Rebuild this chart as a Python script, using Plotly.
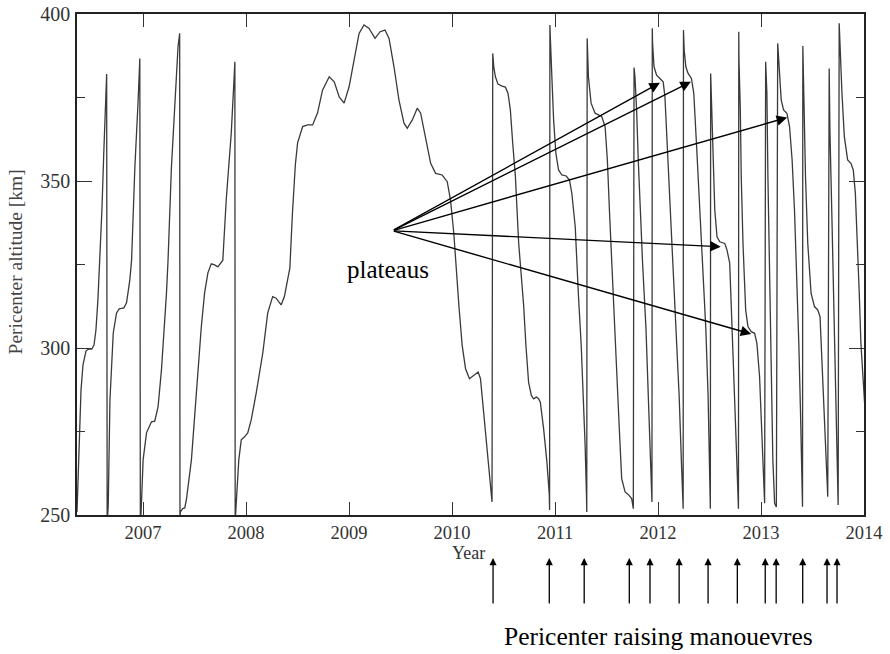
import plotly.graph_objects as go

# ---- Data (decimal year, pericenter altitude in km) ----
year = [
    # 2006 arcs (natural rise, then lowering)
    2006.358, 2006.378, 2006.397, 2006.416, 2006.445, 2006.465, 2006.503, 2006.523, 2006.542,
    2006.561, 2006.581, 2006.600, 2006.619, 2006.634, 2006.646, 2006.651,
    2006.654, 2006.661, 2006.678, 2006.710, 2006.742, 2006.768, 2006.813, 2006.839, 2006.871,
    2006.888, 2006.920, 2006.952, 2006.968, 2006.973,
    2006.978, 2007.000, 2007.033, 2007.081, 2007.113, 2007.145, 2007.178, 2007.227, 2007.242,
    2007.275, 2007.307, 2007.339, 2007.355, 2007.358,
    2007.362, 2007.384, 2007.404, 2007.420, 2007.469, 2007.517, 2007.565, 2007.597, 2007.629,
    2007.662, 2007.694, 2007.726, 2007.759, 2007.774, 2007.807, 2007.856, 2007.881, 2007.891,
    2007.894,
    # long free arc 2008-2010
    2007.899, 2007.910, 2007.929, 2007.953, 2007.985, 2008.016, 2008.049, 2008.098, 2008.162,
    2008.210, 2008.258, 2008.291, 2008.340, 2008.372, 2008.425, 2008.449, 2008.478, 2008.500,
    2008.549, 2008.597, 2008.646, 2008.694, 2008.742, 2008.807, 2008.856, 2008.904, 2008.952,
    2009.000, 2009.048, 2009.097, 2009.145, 2009.194, 2009.252, 2009.301, 2009.349, 2009.388,
    2009.436, 2009.484, 2009.533, 2009.565, 2009.614, 2009.662, 2009.695, 2009.743, 2009.792,
    2009.840, 2009.904, 2009.953, 2009.985, 2010.017, 2010.034, 2010.066, 2010.098, 2010.131,
    2010.169, 2010.211, 2010.253, 2010.276, 2010.308, 2010.340, 2010.373, 2010.388,
    # raising manoeuvre arcs
    2010.395, 2010.405, 2010.421, 2010.446, 2010.485, 2010.518, 2010.543, 2010.566, 2010.589,
    2010.615, 2010.647, 2010.663, 2010.695, 2010.717, 2010.743, 2010.770, 2010.792, 2010.818,
    2010.840, 2010.857, 2010.889, 2010.921, 2010.944, 2010.947,
    2010.950, 2010.954, 2010.969, 2010.986, 2011.008, 2011.034, 2011.066, 2011.108, 2011.140,
    2011.163, 2011.196, 2011.211, 2011.227, 2011.254, 2011.276, 2011.292, 2011.305, 2011.308,
    2011.312, 2011.324, 2011.350, 2011.389, 2011.421, 2011.453, 2011.486, 2011.508, 2011.528,
    2011.550, 2011.573, 2011.598, 2011.624, 2011.647, 2011.680, 2011.712, 2011.744, 2011.760,
    2011.767, 2011.776, 2011.792, 2011.808, 2011.825, 2011.850, 2011.883, 2011.905, 2011.927,
    2011.941,
    2011.944, 2011.947, 2011.961, 2011.986, 2012.018, 2012.050, 2012.067, 2012.089, 2012.115,
    2012.140, 2012.173, 2012.205, 2012.227, 2012.244,
    2012.247, 2012.254, 2012.270, 2012.292, 2012.324, 2012.347, 2012.373, 2012.406, 2012.438,
    2012.464, 2012.486, 2012.502, 2012.508,
    2012.511, 2012.522, 2012.534, 2012.551, 2012.573, 2012.599, 2012.648, 2012.670, 2012.696,
    2012.728, 2012.754, 2012.776, 2012.781,
    2012.784, 2012.786, 2012.799, 2012.808, 2012.825, 2012.851, 2012.873, 2012.905, 2012.938,
    2012.960, 2012.986, 2013.012, 2013.035,
    2013.045, 2013.057, 2013.067, 2013.083, 2013.099, 2013.115, 2013.132, 2013.149,
    2013.162, 2013.180, 2013.196, 2013.219, 2013.251, 2013.277, 2013.302, 2013.325, 2013.348,
    2013.367, 2013.383, 2013.396, 2013.403,
    2013.406, 2013.415, 2013.432, 2013.454, 2013.486, 2013.519, 2013.551, 2013.573, 2013.599,
    2013.625, 2013.648,
    2013.662, 2013.669, 2013.689, 2013.708, 2013.727, 2013.749,
    2013.759, 2013.770, 2013.786, 2013.809, 2013.841, 2013.873, 2013.896, 2013.916, 2013.938,
    2013.954, 2013.970, 2014.016,
]

altitude_km = [
    250.9, 269.5, 287.4, 294.9, 299.1, 299.6, 299.7, 300.9, 305.4,
    314.4, 326.3, 341.3, 359.3, 371.3, 382.0, 249.0,
    249.0, 252.5, 284.4, 304.5, 310.5, 311.7, 312.0, 313.5, 320.4,
    326.3, 354.2, 374.3, 386.7, 249.0,
    249.0, 266.5, 274.6, 277.9, 278.1, 282.4, 293.4, 316.5, 326.3,
    354.2, 374.3, 390.2, 394.2, 249.0,
    250.9, 251.9, 252.1, 254.5, 266.5, 286.5, 306.3, 316.5, 322.5,
    325.2, 324.9, 324.3, 325.8, 326.3, 344.3, 364.4, 379.3, 385.7,
    249.0,
    250.6, 256.6, 266.5, 272.5, 273.4, 274.6, 278.4, 286.5, 298.5,
    310.5, 315.4, 314.9, 312.9, 315.4, 324.0, 339.8, 354.8, 361.4,
    366.3, 366.8, 366.8, 370.4, 377.2, 381.2, 379.7, 375.2, 373.3,
    378.2, 386.2, 394.2, 396.7, 395.7, 392.7, 394.7, 395.2, 392.7,
    384.2, 374.3, 367.3, 365.8, 368.3, 371.8, 370.3, 362.3, 355.3,
    352.3, 351.8, 349.8, 344.3, 334.3, 325.7, 312.8, 300.8, 293.8,
    290.8, 291.8, 292.8, 290.8, 280.8, 269.9, 259.9, 253.9,
    388.2, 384.2, 381.2, 379.0, 378.4, 378.1, 376.3, 371.3, 361.3,
    351.3, 331.3, 325.4, 312.8, 300.8, 289.8, 285.8, 284.8, 285.3,
    284.8, 283.8, 275.8, 265.9, 256.1, 251.5,
    396.7, 393.2, 381.2, 368.3, 358.3, 353.3, 351.8, 351.5, 350.3,
    346.3, 336.3, 325.4, 315.8, 300.8, 285.8, 270.9, 256.1, 250.9,
    392.7, 381.2, 373.3, 370.3, 369.8, 369.3, 366.3, 356.3, 341.3,
    325.4, 310.8, 295.8, 275.8, 260.9, 256.9, 256.1, 254.9, 251.9,
    384.0, 381.2, 371.3, 356.3, 341.3, 325.4, 305.8, 285.8, 265.9,
    253.9,
    395.7, 391.2, 384.2, 381.7, 380.7, 379.7, 375.2, 361.3, 341.3,
    325.4, 305.8, 285.8, 265.9, 251.9,
    395.2, 389.2, 384.2, 382.2, 380.7, 376.3, 361.3, 341.3, 325.4,
    305.8, 285.8, 265.9, 251.9,
    382.2, 371.3, 356.3, 341.3, 333.3, 331.8, 331.3, 329.3, 325.4,
    300.8, 275.8, 256.1, 251.9,
    394.7, 386.2, 371.3, 351.3, 331.3, 311.4, 306.4, 304.9, 304.4,
    301.4, 291.4, 271.5, 253.5,
    385.7, 376.3, 351.3, 321.3, 291.4, 266.5, 253.5, 252.4,
    391.2, 381.2, 374.3, 371.3, 370.3, 366.3, 356.3, 341.3, 321.3,
    301.4, 281.4, 261.5, 252.5,
    390.4, 376.3, 351.3, 331.3, 316.4, 312.4, 311.4, 309.4, 291.4,
    271.5, 255.5,
    383.7, 365.3, 338.3, 308.4, 278.4, 253.0,
    397.2, 386.2, 376.3, 363.3, 356.3, 355.3, 353.3, 346.3, 331.3,
    316.4, 301.4, 278.4,
]

x_ticks = [2007, 2008, 2009, 2010, 2011, 2012, 2013, 2014]
y_ticks = [250, 300, 350, 400]
y_minor_ticks = [275, 325, 375]

# plateau arrows: common tail and the five heads
plateau_tail = (2009.420, 335.1)
plateau_heads_year = [2012.018, 2012.319, 2013.254, 2012.609, 2012.905]
plateau_heads_km = [379.4, 379.7, 369.0, 330.3, 304.2]

# pericenter raising manoeuvre dates (arrows under the axis)
manoeuvre_years = [2010.398, 2010.944, 2011.283, 2011.721, 2011.922, 2012.205, 2012.486,
                   2012.770, 2013.041, 2013.147, 2013.405, 2013.641, 2013.738]

SERIF = "Liberation Serif, Times New Roman, serif"

fig = go.Figure()
fig.add_trace(go.Scatter(
    x=year, y=altitude_km, mode="lines",
    line=dict(color="#3a3a3a", width=1.3),
    showlegend=False, hoverinfo="skip",
))

annotations = []
for hx, hy in zip(plateau_heads_year, plateau_heads_km):
    annotations.append(dict(
        x=hx, y=hy, xref="x", yref="y",
        ax=plateau_tail[0], ay=plateau_tail[1], axref="x", ayref="y",
        text="", showarrow=True, arrowhead=2, arrowsize=1.5, arrowwidth=1.4,
        arrowcolor="black", standoff=0, startstandoff=0,
    ))

for my in manoeuvre_years:
    annotations.append(dict(
        x=my, y=-0.0858, xref="x", yref="paper",
        ax=0, ay=47, axref="pixel", ayref="pixel",
        text="", showarrow=True, arrowhead=2, arrowsize=1.1, arrowwidth=1.3,
        arrowcolor="black", standoff=0,
    ))

annotations.append(dict(
    x=2009.376, y=323.4, xref="x", yref="y", text="plateaus", showarrow=False,
    font=dict(family=SERIF, size=25, color="black"), xanchor="center", yanchor="middle",
))
annotations.append(dict(
    x=2012.0, y=-0.243, xref="x", yref="paper", text="Pericenter raising manouevres",
    showarrow=False, font=dict(family=SERIF, size=25.5, color="black"),
    xanchor="center", yanchor="middle",
))
annotations.append(dict(
    x=2010.16, y=-0.076, xref="x", yref="paper", text="Year", showarrow=False,
    font=dict(family=SERIF, size=18, color="#333"), xanchor="center", yanchor="middle",
))
annotations.append(dict(
    x=-0.077, y=0.505, xref="paper", yref="paper", text="Pericenter altitude [km]",
    showarrow=False, textangle=-90, font=dict(family=SERIF, size=19.5, color="#444"),
    xanchor="center", yanchor="middle",
))

fig.update_layout(
    width=890, height=654,
    margin=dict(l=77, r=26, t=14, b=139, autoexpand=False),
    paper_bgcolor="white", plot_bgcolor="white",
    annotations=annotations,
    xaxis=dict(
        range=[2006.358, 2014], tickvals=x_ticks, ticktext=[str(t) for t in x_ticks],
        ticks="inside", ticklen=13, tickwidth=1.2, tickcolor="#333",
        showline=True, linecolor="#222", linewidth=1.5, mirror="ticks",
        showgrid=False, zeroline=False, ticklabelstandoff=0, automargin=False,
        tickfont=dict(family=SERIF, size=18.5, color="#333"),
    ),
    yaxis=dict(
        range=[250, 400], tickvals=y_ticks,
        ticks="inside", ticklen=15, tickwidth=1.2, tickcolor="#333",
        minor=dict(tickmode="array", tickvals=y_minor_ticks, ticks="inside",
                   ticklen=8, tickwidth=1.2, tickcolor="#333", showgrid=False),
        showline=True, linecolor="#222", linewidth=1.5, mirror="ticks",
        showgrid=False, zeroline=False, ticklabelstandoff=1, automargin=False,
        tickfont=dict(family=SERIF, size=20, color="#333"),
    ),
)

fig.write_html("out.html", config={"displayModeBar": False},
               post_script="document.body.style.margin='0';")
